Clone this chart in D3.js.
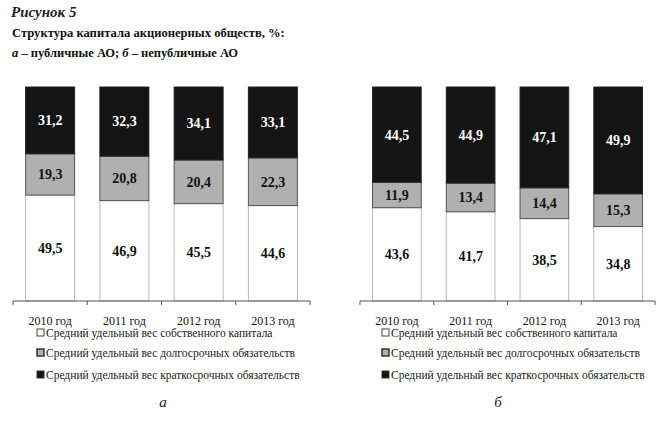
<!DOCTYPE html>
<html><head><meta charset="utf-8">
<script src="https://cdn.jsdelivr.net/npm/d3@7"></script>
<style>
body{margin:0;background:#fff;}
svg{display:block;}
svg text{font-family:"Liberation Serif","Times New Roman",serif;}
</style></head>
<body>
<svg id="c" width="662" height="423"></svg>
<script>
const categories = ["2010 год","2011 год","2012 год","2013 год"];
// а – публичные АО
const publicEquity = [49.5,46.9,45.5,44.6];
const publicLongTerm = [19.3,20.8,20.4,22.3];
const publicShortTerm = [31.2,32.3,34.1,33.1];
// б – непубличные АО
const nonpublicEquity = [43.6,41.7,38.5,34.8];
const nonpublicLongTerm = [11.9,13.4,14.4,15.3];
const nonpublicShortTerm = [44.5,44.9,47.1,49.9];
const seriesNames = ["Средний удельный вес собственного капитала","Средний удельный вес долгосрочных обязательств","Средний удельный вес краткосрочных обязательств"];
const panelLabels = ["а","б"];

const fills = ["#ffffff","#b0b0b0","#141414"];
const strokes = ["#b8b8b8","#555","#222"];
const textCol = ["#111","#111","#fff"];

const svg = d3.select("#c");
// Title
svg.append("text").attr("x",11).attr("y",17).attr("font-size",15).attr("font-weight","bold").attr("font-style","italic").attr("fill","#222").text("Рисунок 5");
svg.append("text").attr("x",12).attr("y",37).attr("font-size",12.6).attr("font-weight","bold").attr("fill","#111").text("Структура капитала акционерных обществ, %:");
const t3 = svg.append("text").attr("x",12).attr("y",57).attr("font-size",12.5).attr("font-weight","bold").attr("fill","#111");
t3.append("tspan").attr("font-style","italic").text("а");
t3.append("tspan").text(" – публичные АО; ");
t3.append("tspan").attr("font-style","italic").text("б");
t3.append("tspan").text(" – непубличные АО");

function panel(x0,x1,data,label,legendX,labelX){
  const x = d3.scaleBand().domain(categories).range([x0,x1]).paddingInner(0.34).paddingOuter(0.17);
  const y = d3.scaleLinear().domain([0,100]).range([301,87]);
  const g = svg.append("g");
  const stackData = categories.map((c,i)=>({cat:c, s0:data[0][i], s1:data[1][i], s2:data[2][i]}));
  const stacked = d3.stack().keys(["s0","s1","s2"])(stackData);
  stacked.forEach((layer,li)=>{
    g.selectAll(null).data(layer).enter().append("rect")
      .attr("x",d=>x(d.data.cat)).attr("width",x.bandwidth())
      .attr("y",d=>y(d[1])).attr("height",d=>y(d[0])-y(d[1]))
      .attr("fill",fills[li]).attr("stroke",strokes[li]).attr("stroke-width",1);
  });
  stacked.forEach((layer,li)=>{
    g.selectAll(null).data(layer).enter().append("text")
      .attr("x",d=>x(d.data.cat)+x.bandwidth()/2)
      .attr("y",d=>(y(d[0])+y(d[1]))/2)
      .attr("dy","0.35em").attr("text-anchor","middle")
      .attr("font-size",14).attr("font-weight","bold").attr("fill",textCol[li])
      .text(d=>d3.format(".1f")(d[1]-d[0]).replace(".",","));
  });
  // axis
  const ax = g.append("g").attr("transform","translate(0,301)")
    .call(d3.axisBottom(x).tickSize(0).tickPadding(15));
  ax.select(".domain").attr("stroke","#555").attr("d",`M${x0},0H${x1}`);
  ax.selectAll("text").attr("font-size",12).attr("fill","#111");
  // boundary ticks
  const step = x.step();
  const edges = [x0].concat(categories.map((c,i)=>x(c)+x.bandwidth()+ (step-x.bandwidth())/2)).slice(0,5);
  edges[4]=x1;
  g.selectAll(null).data(edges).enter().append("line")
    .attr("x1",d=>d).attr("x2",d=>d).attr("y1",301).attr("y2",305).attr("stroke","#555");
  // legend
  seriesNames.forEach((n,i)=>{
    const ly = [333,353,375][i];
    g.append("rect").attr("x",legendX).attr("y",ly-4).attr("width",7).attr("height",7)
      .attr("fill",fills[i]).attr("stroke",i===0?"#444":"#333").attr("stroke-width",i===1?1.5:1);
    g.append("text").attr("x",legendX+9).attr("y",ly).attr("dy","0.35em").attr("font-size",11.5).attr("fill","#1a1a1a").text(n);
  });
  g.append("text").attr("x",labelX).attr("y",402).attr("dy","0.35em").attr("text-anchor","middle")
    .attr("font-size",15).attr("font-style","italic").attr("fill","#222").text(label);
}
panel(13,310,[publicEquity,publicLongTerm,publicShortTerm],panelLabels[0],37,163);
panel(360,655,[nonpublicEquity,nonpublicLongTerm,nonpublicShortTerm],panelLabels[1],382,498);
</script>
</body></html>
